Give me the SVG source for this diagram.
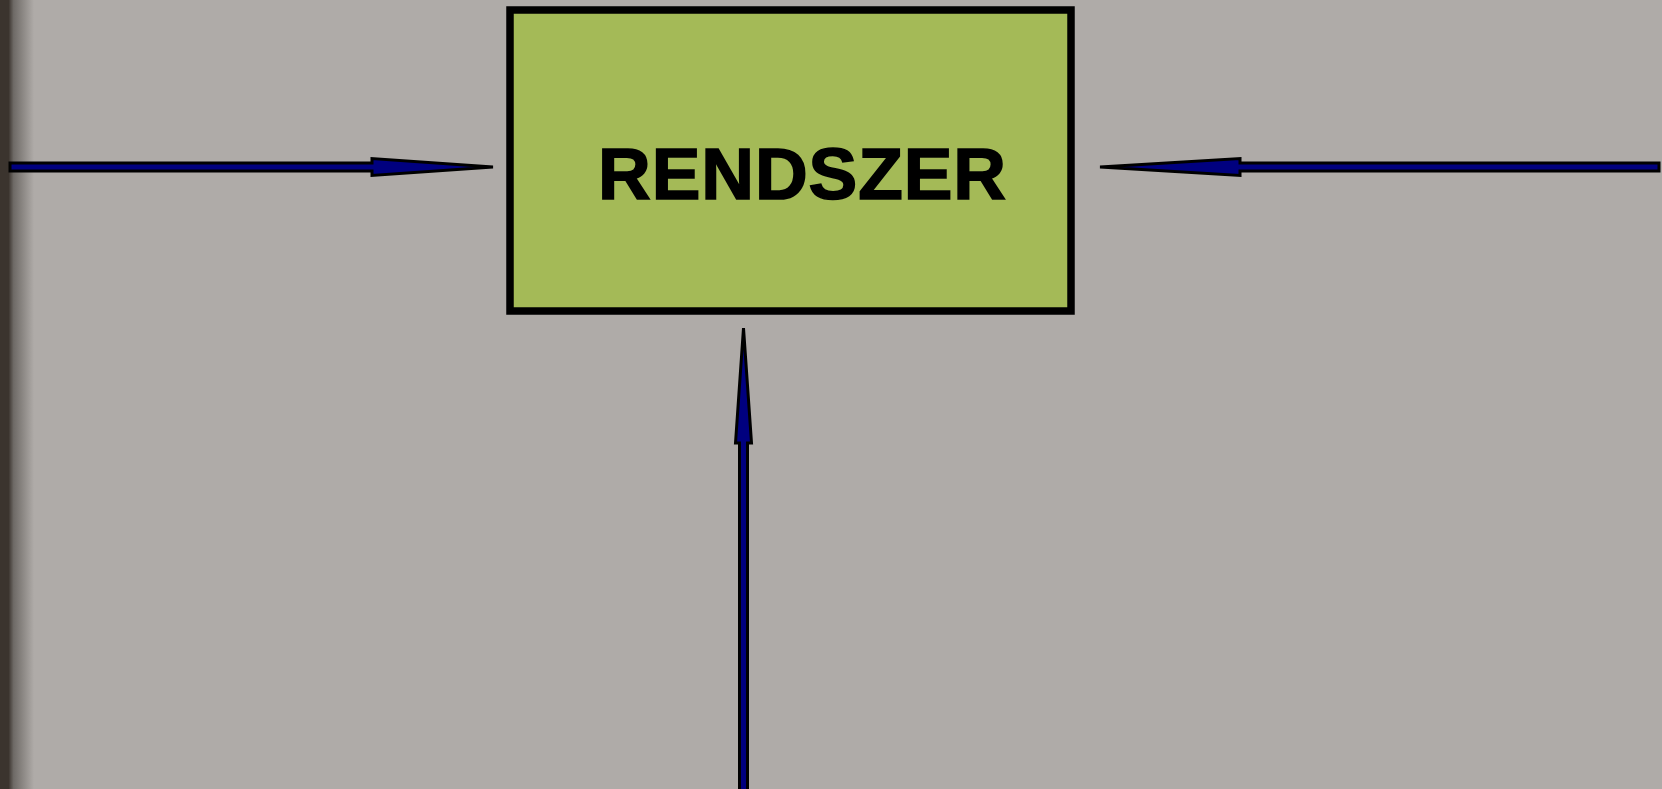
<svg xmlns="http://www.w3.org/2000/svg" width="1662" height="789" viewBox="0 0 1662 789">
  <defs>
    <linearGradient id="edge" x1="0" y1="0" x2="1" y2="0">
      <stop offset="0" stop-color="#3b342e"/>
      <stop offset="0.25" stop-color="#3b342e"/>
      <stop offset="0.4" stop-color="#6e6a66"/>
      <stop offset="1" stop-color="#afaba8"/>
    </linearGradient>
    <style>
      .arrow { fill: #00007f; stroke: #000; stroke-width: 3; stroke-linejoin: miter; stroke-miterlimit: 4; }
      .label { font-family: "Liberation Sans", Arial, sans-serif; font-weight: bold; font-size: 73px; fill: #000; stroke: #000; stroke-width: 1.6; }
    </style>
  </defs>
  <rect x="0" y="0" width="1662" height="789" fill="#afaba8"/>
  <rect x="0" y="0" width="34" height="789" fill="url(#edge)"/>
  <g id="system">
    <rect x="510" y="10" width="561" height="301" fill="#a4ba57" stroke="#000" stroke-width="7.5"/>
    <text class="label" x="598" y="199" textLength="408" lengthAdjust="spacing">RENDSZER</text>
  </g>
  <g id="connectors">
    <polygon class="arrow" points="10,163 372,163 372,158.5 493,167 372,175.5 372,171 10,171"/>
    <polygon class="arrow" points="1659,163 1240,163 1240,158.5 1100,167 1240,175.5 1240,171 1659,171"/>
    <polygon class="arrow" points="739.5,800 739.5,443 735.5,443 743.5,328 751.5,443 747.5,443 747.5,800"/>
  </g>
</svg>
